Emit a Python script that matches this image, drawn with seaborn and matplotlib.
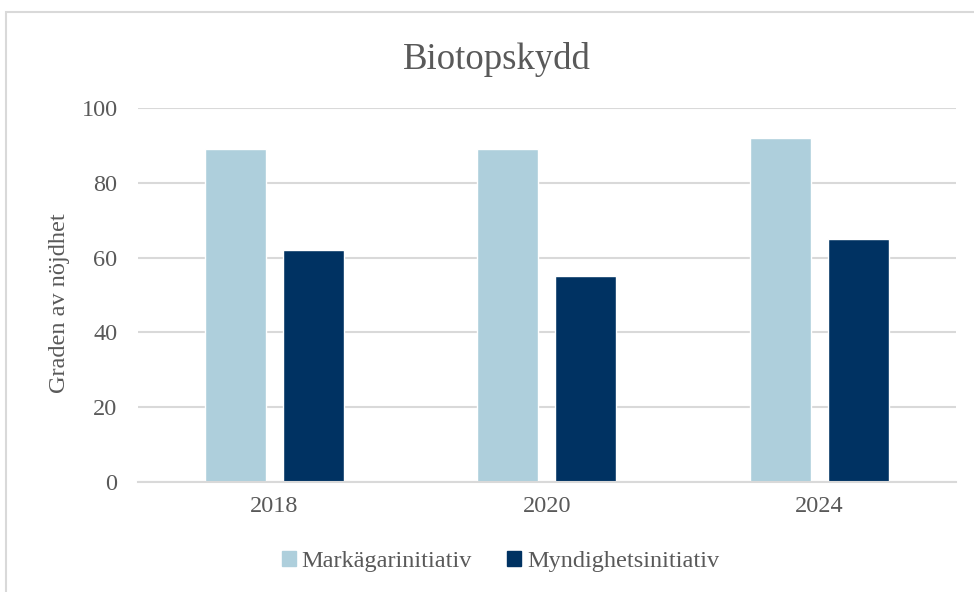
import matplotlib
matplotlib.use('Agg')
import matplotlib.pyplot as plt
import matplotlib.patches as mpatches
import pandas as pd
import seaborn as sns

# ---------------------------
# Data
# ---------------------------
years = ["2018", "2020", "2024"]
markagare = [89, 89, 92]
myndighet = [62, 55, 65]
series_names = ["Markägarinitiativ", "Myndighetsinitiativ"]
yticks = [0, 20, 40, 60, 80, 100]

df = pd.DataFrame({
    "År": years * 2,
    "Grad": markagare + myndighet,
    "Initiativ": [series_names[0]] * 3 + [series_names[1]] * 3,
})

# ---------------------------
# Style
# ---------------------------
sns.set_style("white")
plt.rcParams['font.family'] = ['Liberation Serif', 'DejaVu Serif']
text_col = "#595959"
grid_col = "#D9D9D9"
palette = {series_names[0]: "#AECFDC", series_names[1]: "#003262"}

fig = plt.figure(figsize=(9.74, 5.92), dpi=100)
ax = fig.add_axes([0.1414, 0.1858, 0.8401, 0.6318])

sns.barplot(data=df, x="År", y="Grad", hue="Initiativ", palette=palette,
            width=0.572, gap=0.218, ax=ax, legend=False, saturation=1)

ax.set_ylim(0, 100)
ax.set_yticks(yticks)
ax.yaxis.grid(True, color=grid_col, linewidth=1.5)
ax.set_axisbelow(True)
for side in ["left", "right", "top"]:
    ax.spines[side].set_visible(False)
ax.spines["bottom"].set_color(grid_col)
ax.spines["bottom"].set_linewidth(1.5)
ax.tick_params(axis="both", length=0, labelsize=17.5, colors=text_col)
ax.tick_params(axis="x", pad=10)
ax.tick_params(axis="y", pad=14.5)
ax.set_xlabel("")
ax.set_ylabel("Graden av nöjdhet", fontsize=17.5, color=text_col)
ax.yaxis.set_label_coords(-0.083, 0.479)

fig.text(0.51, 0.899, "Biotopskydd", ha="center", va="center",
         fontsize=26.5, color=text_col)

handles = [mpatches.Patch(color=palette[n], label=n) for n in series_names]
fig.legend(handles=handles, loc="center", bbox_to_anchor=(0.514, 0.051), ncol=2,
           frameon=False, fontsize=17.5, labelcolor=text_col,
           handlelength=0.58, handleheight=0.58, handletextpad=0.25,
           columnspacing=1.45)

# chart border
fig.patches.append(mpatches.Rectangle((0.0065, -0.05), 1.05, 1.03,
                                      transform=fig.transFigure, fill=False,
                                      edgecolor="#D9D9D9", linewidth=1.5))

fig.savefig("out.png", dpi=100)
plt.close(fig)
